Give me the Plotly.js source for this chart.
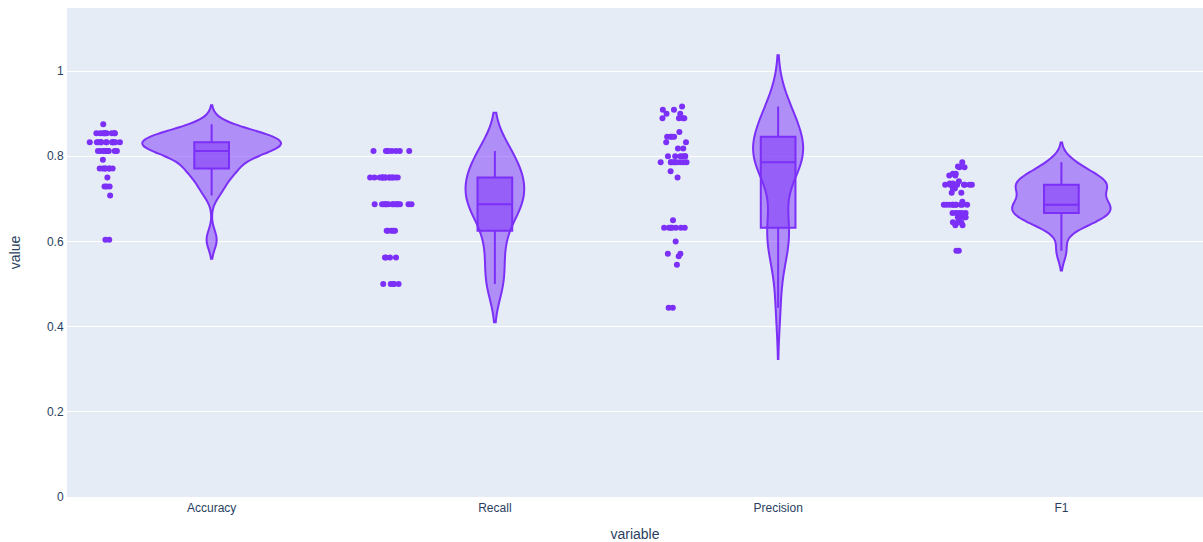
<!DOCTYPE html>
<html>
<head>
<meta charset="utf-8">
<script src="https://cdn.plot.ly/plotly-3.0.1.min.js"></script>
<style>html,body{margin:0;padding:0;background:#fff;overflow:hidden;}#chart{width:1203px;height:542px;}</style>
</head>
<body>
<div id="chart"></div>
<script>
const categories = ['Accuracy', 'Recall', 'Precision', 'F1'];

const accuracyLevels = [0.875, 0.854, 0.833, 0.8125, 0.792, 0.771, 0.75, 0.729, 0.708, 0.604];
const accuracyCounts = [1, 9, 14, 11, 1, 7, 1, 3, 1, 2];

const recallLevels = [0.8125, 0.75, 0.6875, 0.625, 0.5625, 0.5];
const recallCounts = [8, 14, 14, 5, 4, 5];

const precisionLevels = [0.917, 0.909, 0.9, 0.889, 0.857, 0.846, 0.833, 0.818, 0.8, 0.786, 0.765, 0.75, 0.65, 0.632, 0.6, 0.571, 0.565, 0.545, 0.444];
const precisionCounts = [1, 2, 2, 4, 1, 4, 2, 2, 6, 9, 1, 1, 1, 7, 1, 2, 1, 1, 2];

const f1Levels = [0.786, 0.776, 0.774, 0.759, 0.755, 0.741, 0.736, 0.733, 0.724, 0.714, 0.693, 0.686, 0.667, 0.657, 0.645, 0.638, 0.578];
const f1Counts = [1, 1, 2, 2, 2, 1, 2, 8, 2, 2, 1, 10, 5, 4, 3, 2, 2];

const levelSets = [
  [accuracyLevels, accuracyCounts],
  [recallLevels, recallCounts],
  [precisionLevels, precisionCounts],
  [f1Levels, f1Counts]
];

// expand into long-format rows (variable, value), interleaving levels like fold results
const xs = [], ys = [];
levelSets.forEach(([levels, counts], i) => {
  const left = counts.slice();
  let remaining = left.reduce((a, b) => a + b, 0);
  let k = 0;
  while (remaining > 0) {
    const j = (k * 7) % levels.length;
    if (left[j] > 0) { xs.push(categories[i]); ys.push(levels[j]); left[j]--; remaining--; }
    k++;
    if (k > 10000) break;
  }
});

const color = '#7b2ff7';

const trace = {
  type: 'violin',
  x: xs,
  y: ys,
  name: '',
  showlegend: false,
  line: {color: color},
  marker: {color: color},
  points: 'all',
  box: {visible: true},
  scalegroup: 'True',
  alignmentgroup: 'True',
  offsetgroup: '',
  orientation: 'v'
};

const layout = {
  width: 1203,
  height: 542,
  margin: {l: 67, r: 0, t: 8, b: 45},
  paper_bgcolor: '#ffffff',
  plot_bgcolor: '#E5ECF6',
  font: {family: 'Arial, "Liberation Sans", sans-serif', size: 12, color: '#2a3f5f'},
  violinmode: 'group',
  xaxis: {
    title: {text: 'variable', font: {size: 14}},
    automargin: false,
    categoryorder: 'array',
    categoryarray: categories,
    showgrid: false,
    zeroline: false,
    ticks: '',
    linecolor: 'white'
  },
  yaxis: {
    title: {text: 'value', font: {size: 14}, standoff: 23},
    automargin: false,
    range: [0, 1.148],
    tick0: 0,
    dtick: 0.2,
    gridcolor: 'white',
    gridwidth: 1,
    zeroline: true,
    zerolinecolor: 'white',
    zerolinewidth: 2,
    ticks: '',
    linecolor: 'white'
  }
};

Plotly.newPlot('chart', [trace], layout, {displayModeBar: false, responsive: false});
</script>
</body>
</html>
